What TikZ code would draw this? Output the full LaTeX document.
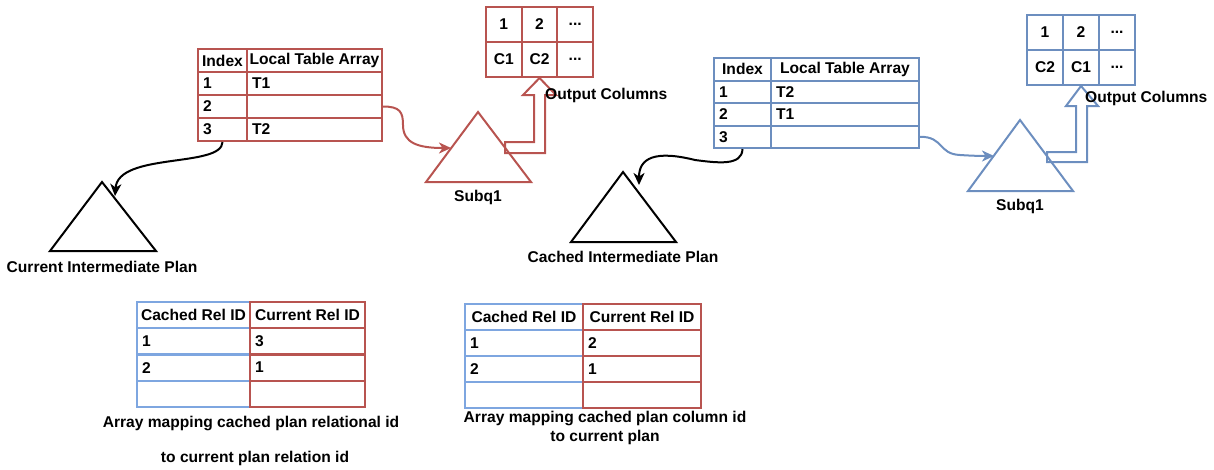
\documentclass[tikz,border=0pt]{standalone}
\usepackage{fontspec}
\setmainfont{Liberation Sans}
\usetikzlibrary{arrows.meta}
\definecolor{rdc}{HTML}{B85450}
\definecolor{blc}{HTML}{6C8EBF}
\definecolor{lbl}{HTML}{7EA6E0}
\newcommand{\tabfont}{\bfseries\fontsize{15.6}{18}\selectfont}
\tikzset{
  cell/.style={draw, line width=2pt, inner sep=0pt, font=\tabfont, text=black},
  hcell/.style={cell, align=center},
  lcell/.style={cell, align=left, inner xsep=5pt},
  lab/.style={inner sep=0pt, font=\tabfont, text=black},
  tri/.style={line width=2pt, line join=miter},
  conn/.style={line width=2pt, -{Stealth[length=12pt,width=11pt,inset=3.5pt]}},
  hollow/.style={line width=2pt, line join=miter}
}
\begin{document}
\begin{tikzpicture}[x=1pt,y=-1pt]
\useasboundingbox (0,0) rectangle (1214,469);

% ---------- red (current) top table ----------
\begin{scope}[every node/.append style={rdc}]
\node[hcell, minimum width=49pt, minimum height=23pt] (rt-h1) at (222.5,60.5) {Index};
\node[hcell, minimum width=135pt, minimum height=23pt] (rt-h2) at (314.5,60.5) {Local Table Array};
\node[lcell, text width=39pt, minimum height=23pt] (rt-1a) at (222.5,83.5) {1};
\node[lcell, text width=125pt, minimum height=23pt] (rt-1b) at (314.5,83.5) {T1};
\node[lcell, text width=39pt, minimum height=23pt] (rt-2a) at (222.5,106.5) {2};
\node[lcell, text width=125pt, minimum height=23pt] (rt-2b) at (314.5,106.5) {};
\node[lcell, text width=39pt, minimum height=23pt] (rt-3a) at (222.5,129.5) {3};
\node[lcell, text width=125pt, minimum height=23pt] (rt-3b) at (314.5,129.5) {T2};
% output table
\node[hcell, minimum width=35.7pt, minimum height=35pt] (ro-1a) at (503.8,24.5) {1};
\node[hcell, minimum width=35.7pt, minimum height=35pt] (ro-2a) at (539.5,24.5) {2};
\node[hcell, minimum width=35.7pt, minimum height=35pt] (ro-3a) at (575.2,24.5) {...};
\node[hcell, minimum width=35.7pt, minimum height=35pt] (ro-1b) at (503.8,59.5) {C1};
\node[hcell, minimum width=35.7pt, minimum height=35pt] (ro-2b) at (539.5,59.5) {C2};
\node[hcell, minimum width=35.7pt, minimum height=35pt] (ro-3b) at (575.2,59.5) {...};
\end{scope}

% red triangle
\coordinate (rtri-top) at (478,112);
\coordinate (rtri-r) at (531,182);
\coordinate (rtri-l) at (426,182);
\draw[tri, rdc] (rtri-top) -- (rtri-r) -- (rtri-l) -- cycle;
\node[lab] (rsub) at (478,197) {Subq1};
\coordinate (rtri-in) at (451,148);
\draw[conn, rdc] (rt-2b.east) .. controls (400,106.5) and (403,112) .. (403,125)
  .. controls (403,143) and (418,148) .. (rtri-in);
% red hollow arrow
\draw[hollow, rdc] (505,142) -- (534,142) -- (534,95) -- (523,95) -- (ro-2b.south)
  -- (556,95) -- (545,95) -- (545,153) -- (505,153) -- cycle;
\node[lab, anchor=west] (rout) at (545,95) {Output Columns};

% ---------- black triangle: current plan ----------
\coordinate (ctri-top) at (102,182);
\coordinate (ctri-r) at (156,251);
\coordinate (ctri-l) at (50,251);
\draw[tri] (ctri-top) -- (ctri-r) -- (ctri-l) -- cycle;
\node[lab] (cplan) at (102,267) {Current Intermediate Plan};
\coordinate (ctri-in) at (115,196);
\draw[conn] (rt-3a.south) .. controls (222,168) and (118,152) .. (ctri-in);

% ---------- blue (cached) top table ----------
\begin{scope}[every node/.append style={blc}]
\node[hcell, minimum width=57pt, minimum height=22.5pt] (bt-h1) at (742.5,69.25) {Index};
\node[hcell, minimum width=148pt, minimum height=22.5pt] (bt-h2) at (845,69.25) {Local Table Array};
\node[lcell, text width=47pt, minimum height=22.5pt] (bt-1a) at (742.5,91.75) {1};
\node[lcell, text width=138pt, minimum height=22.5pt] (bt-1b) at (845,91.75) {T2};
\node[lcell, text width=47pt, minimum height=22.5pt] (bt-2a) at (742.5,114.25) {2};
\node[lcell, text width=138pt, minimum height=22.5pt] (bt-2b) at (845,114.25) {T1};
\node[lcell, text width=47pt, minimum height=22.5pt] (bt-3a) at (742.5,136.75) {3};
\node[lcell, text width=138pt, minimum height=22.5pt] (bt-3b) at (845,136.75) {};
% output table
\node[hcell, minimum width=36pt, minimum height=35pt] (bo-1a) at (1045,32.5) {1};
\node[hcell, minimum width=36pt, minimum height=35pt] (bo-2a) at (1081,32.5) {2};
\node[hcell, minimum width=36pt, minimum height=35pt] (bo-3a) at (1117,32.5) {...};
\node[hcell, minimum width=36pt, minimum height=35pt] (bo-1b) at (1045,67.5) {C2};
\node[hcell, minimum width=36pt, minimum height=35pt] (bo-2b) at (1081,67.5) {C1};
\node[hcell, minimum width=36pt, minimum height=35pt] (bo-3b) at (1117,67.5) {...};
\end{scope}

% blue triangle
\coordinate (btri-top) at (1020,120);
\coordinate (btri-r) at (1073,191);
\coordinate (btri-l) at (968,191);
\draw[tri, blc] (btri-top) -- (btri-r) -- (btri-l) -- cycle;
\node[lab] (bsub) at (1020,206) {Subq1};
\coordinate (btri-in) at (994,156);
\draw[conn, blc] (bt-3b.east) .. controls (944,136.75) and (938,154) .. (960,155)
  .. controls (975,156) and (985,156) .. (btri-in);
% blue hollow arrow
\draw[hollow, blc] (1047,152) -- (1076,152) -- (1076,106) -- (1066,106) -- (bo-2b.south)
  -- (1098,106) -- (1087,106) -- (1087,162) -- (1047,162) -- cycle;
\node[lab, anchor=west] (bout) at (1085,98) {Output Columns};

% ---------- black triangle: cached plan ----------
\coordinate (ktri-top) at (623,172);
\coordinate (ktri-r) at (676,242);
\coordinate (ktri-l) at (571,242);
\draw[tri] (ktri-top) -- (ktri-r) -- (ktri-l) -- cycle;
\node[lab] (kplan) at (623,257) {Cached Intermediate Plan};
\coordinate (ktri-in) at (639,185);
\draw[conn] (bt-3a.south) .. controls (742,166) and (718,163) .. (695,160)
  .. controls (655,150) and (639,158) .. (ktri-in);

% ---------- bottom left mapping table ----------
\begin{scope}[every node/.append style={lbl}]
\node[hcell, minimum width=113pt, minimum height=26.25pt] (ml-h1) at (193.5,315.1) {Cached Rel ID};
\node[lcell, text width=103pt, minimum height=26.25pt] (ml-1a) at (193.5,341.4) {1};
\node[lcell, text width=103pt, minimum height=26.25pt] (ml-2a) at (193.5,367.6) {2};
\node[lcell, text width=103pt, minimum height=26.25pt] (ml-3a) at (193.5,393.9) {};
\end{scope}
\begin{scope}[every node/.append style={rdc}]
\node[hcell, minimum width=115pt, minimum height=26.25pt] (ml-h2) at (307.5,315.1) {Current Rel ID};
\node[lcell, text width=105pt, minimum height=26.25pt] (ml-1b) at (307.5,341.4) {3};
\node[lcell, text width=105pt, minimum height=26.25pt] (ml-2b) at (307.5,367.6) {1};
\node[lcell, text width=105pt, minimum height=26.25pt] (ml-3b) at (307.5,393.9) {};
\end{scope}
\node[lab] (ml-cap1) at (251,423) {Array mapping cached plan relational id};
\node[lab] (ml-cap2) at (255,458) {to current plan relation id};

% ---------- bottom middle mapping table ----------
\begin{scope}[every node/.append style={lbl}]
\node[hcell, minimum width=118pt, minimum height=26pt] (mm-h1) at (524,317) {Cached Rel ID};
\node[lcell, text width=108pt, minimum height=26pt] (mm-1a) at (524,343) {1};
\node[lcell, text width=108pt, minimum height=26pt] (mm-2a) at (524,369) {2};
\node[lcell, text width=108pt, minimum height=26pt] (mm-3a) at (524,395) {};
\end{scope}
\begin{scope}[every node/.append style={rdc}]
\node[hcell, minimum width=118pt, minimum height=26pt] (mm-h2) at (642,317) {Current Rel ID};
\node[lcell, text width=108pt, minimum height=26pt] (mm-1b) at (642,343) {2};
\node[lcell, text width=108pt, minimum height=26pt] (mm-2b) at (642,369) {1};
\node[lcell, text width=108pt, minimum height=26pt] (mm-3b) at (642,395) {};
\end{scope}
\node[lab] (mm-cap1) at (605,418) {Array mapping cached plan column id};
\node[lab] (mm-cap2) at (605,437) {to current plan};
\end{tikzpicture}
\end{document}
